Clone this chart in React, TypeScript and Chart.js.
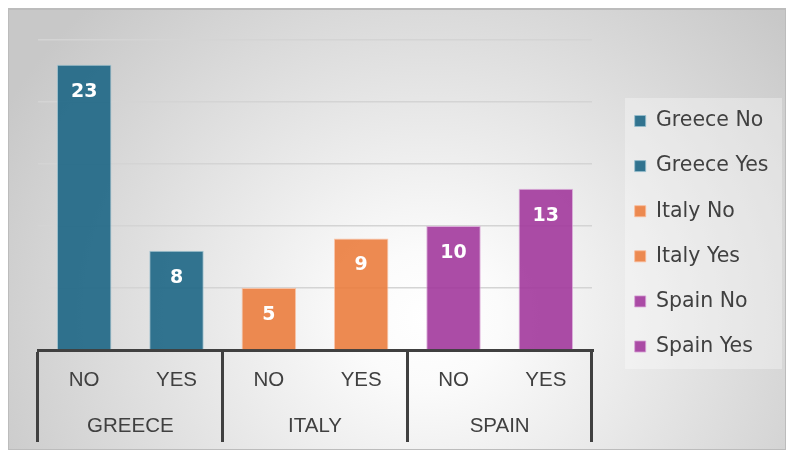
import React, { useEffect, useRef } from 'react';
import { Chart, registerables } from 'chart.js';

Chart.register(...registerables);

const subLabels = ['NO', 'YES', 'NO', 'YES', 'NO', 'YES'];
const groupLabels = ['GREECE', 'ITALY', 'SPAIN'];
const seriesNames = ['Greece No', 'Greece Yes', 'Italy No', 'Italy Yes', 'Spain No', 'Spain Yes'];
const values = [23, 8, 5, 9, 10, 13];
const yTicks = [0, 5, 10, 15, 20, 25];

const TEAL = 'rgba(29,102,133,0.9)';
const ORANGE = 'rgba(235,125,62,0.9)';
const PURPLE = 'rgba(162,56,156,0.9)';
const TEAL_EDGE = 'rgba(150,190,205,0.8)';
const ORANGE_EDGE = 'rgba(250,185,150,0.8)';
const PURPLE_EDGE = 'rgba(215,160,212,0.8)';
const fillColors = [TEAL, TEAL, ORANGE, ORANGE, PURPLE, PURPLE];
const edgeColors = [TEAL_EDGE, TEAL_EDGE, ORANGE_EDGE, ORANGE_EDGE, PURPLE_EDGE, PURPLE_EDGE];

const TEXT = '#404040';
const AXIS_FONT = { family: '"Liberation Sans", Arial, sans-serif', size: 20.5 };
const LEGEND_FONT = { family: '"DejaVu Sans", sans-serif', size: 20.5 };
const ROW_H = 46;

const customPlugin = {
  id: 'customLayout',
  beforeLayout(chart: any) {
    const lg = chart.legend;
    if (lg && !lg.__patched) {
      const fit = lg.fit.bind(lg);
      lg.fit = function () {
        fit();
        this.width = 189;
      };
      lg.__patched = true;
    }
  },
  afterLayout(chart: any) {
    const lg = chart.legend;
    if (!lg) return;
    const w = lg.width;
    const h = lg.height;
    lg.left = chart.chartArea.right + 18.1;
    lg.right = lg.left + w;
    lg.top = 76.15;
    lg.bottom = lg.top + Math.max(h, 300);
  },
  beforeDraw(chart: any) {
    const lg = chart.legend;
    if (!lg) return;
    const ctx = chart.ctx;
    ctx.save();
    ctx.fillStyle = 'rgba(255,255,255,0.32)';
    ctx.fillRect(lg.left + 14.9, lg.top + 11.85, 157, 271);
    ctx.restore();
  },
  afterDatasetsDraw(chart: any) {
    const ctx = chart.ctx;
    const meta = chart.getDatasetMeta(0);
    ctx.save();
    ctx.fillStyle = '#ffffff';
    ctx.font = 'bold 19px "DejaVu Sans", sans-serif';
    ctx.textAlign = 'center';
    ctx.textBaseline = 'middle';
    meta.data.forEach((el: any, i: number) => {
      ctx.fillText(String(values[i]), el.x, el.y + 27);
    });
    ctx.restore();
  },
};

export default function App() {
  const ref = useRef<HTMLCanvasElement | null>(null);

  useEffect(() => {
    if (!ref.current) return;
    const chart = new Chart(ref.current, {
      type: 'bar',
      data: {
        labels: subLabels,
        datasets: [
          {
            data: values,
            backgroundColor: fillColors,
            borderColor: edgeColors,
            borderWidth: 1,
            barPercentage: 0.59,
            categoryPercentage: 1,
          },
        ],
      },
      options: {
        responsive: true,
        maintainAspectRatio: false,
        animation: false,
        events: [],
        layout: { padding: { left: 29, top: 30, right: 4, bottom: 7 } },
        plugins: {
          tooltip: { enabled: false },
          legend: {
            position: 'right',
            align: 'start',
            labels: {
              boxWidth: 11,
              boxHeight: 11,
              padding: 24.6,
              color: TEXT,
              font: LEGEND_FONT,
              generateLabels: () =>
                seriesNames.map((name, i) => ({
                  text: name,
                  fillStyle: fillColors[i],
                  strokeStyle: edgeColors[i],
                  lineWidth: 1,
                  hidden: false,
                  index: i,
                  fontColor: TEXT,
                })),
            },
          },
        },
        scales: {
          x: {
            type: 'category',
            position: 'bottom',
            weight: 0,
            offset: true,
            z: 1,
            grid: {
              display: true,
              offset: true,
              drawOnChartArea: false,
              drawTicks: true,
              tickLength: ROW_H * 2,
              lineWidth: 3,
              color: (c: any) => {
                const idx = typeof c.index === 'number' ? c.index : subLabels.length;
                return idx % 2 === 0 ? TEXT : 'rgba(0,0,0,0)';
              },
            },
            border: { display: true, color: TEXT, width: 3 },
            ticks: {
              autoSkip: false,
              maxRotation: 0,
              padding: -74,
              color: TEXT,
              font: AXIS_FONT,
            },
            afterFit: (s: any) => {
              s.height = ROW_H;
            },
          },
          x2: {
            type: 'category',
            labels: groupLabels,
            position: 'bottom',
            weight: 1,
            offset: true,
            grid: { display: false, drawTicks: false },
            border: { display: false },
            ticks: {
              autoSkip: false,
              maxRotation: 0,
              padding: 18.5,
              color: TEXT,
              font: AXIS_FONT,
            },
            afterFit: (s: any) => {
              s.height = ROW_H;
            },
          },
          y: {
            min: yTicks[0],
            max: yTicks[yTicks.length - 1],
            afterBuildTicks: (s: any) => {
              s.ticks = yTicks.map((v) => ({ value: v }));
            },
            ticks: { display: false },
            grid: { color: '#d4d4d4', lineWidth: 1.5, drawTicks: false },
            border: { display: false },
          },
        },
      },
      plugins: [customPlugin],
    } as any);
    return () => chart.destroy();
  }, []);

  return (
    <div
      style={{
        position: 'fixed',
        left: 8,
        top: 8,
        width: 778,
        height: 442,
        boxSizing: 'border-box',
        border: '1px solid #bcbcbc',
        borderTopWidth: 2,
        background:
          'radial-gradient(ellipse 62% 100% at 54% 70%, #ffffff 0%, #fbfbfb 15%, #c8c8c8 100%)',
      }}
    >
      <canvas ref={ref} />
    </div>
  );
}
